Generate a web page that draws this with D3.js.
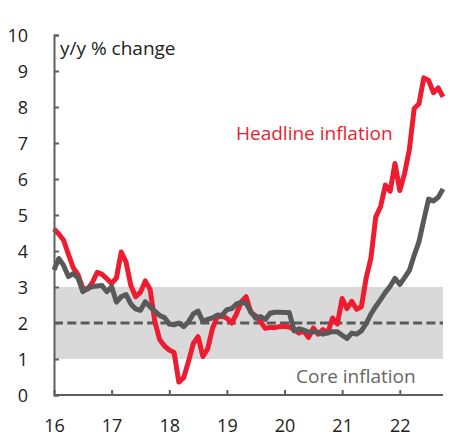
<!DOCTYPE html>
<meta charset="utf-8">
<style>
    body { margin: 0; background: #fff; font-family: "Open Sans", sans-serif; }
    .axis path, .axis line { stroke: #5f5f5f; stroke-width: 2px; }
    .axis text { font-family: "Open Sans", sans-serif; font-size: 18px; fill: #222; }
    .line { fill: none; stroke-width: 5px; stroke-linejoin: round; }
</style>
<svg width="453" height="441"></svg>
<script src="https://cdnjs.cloudflare.com/ajax/libs/d3/7.8.5/d3.min.js"></script>
<script>

    // monthly y/y % change, Jan 2016 .. Oct 2022
    var startYear = 16;
    var headline = [
        4.61, 4.47, 4.30, 3.91, 3.54, 3.34, 2.96, 2.94, 3.13, 3.41, 3.35, 3.23,
        3.10, 3.25, 3.97, 3.69, 3.04, 2.73, 2.85, 3.17, 2.94, 2.04, 1.54, 1.36,
        1.25, 1.18, 0.36, 0.48, 0.93, 1.43, 1.62, 1.07, 1.28, 1.85, 2.17, 2.19,
        2.13, 2.00, 2.25, 2.59, 2.73, 2.29, 2.20, 2.04, 1.85, 1.88, 1.87, 1.90,
        1.90, 1.89, 1.82, 1.72, 1.78, 1.60, 1.86, 1.69, 1.82, 1.72, 2.14, 1.97,
        2.68, 2.40, 2.60, 2.38, 2.45, 3.25, 3.81, 4.95, 5.23, 5.83, 5.66, 6.43,
        5.68, 6.15, 6.82, 7.96, 8.09, 8.81, 8.74, 8.40, 8.53, 8.28
    ];
    var core = [
        3.47, 3.79, 3.60, 3.29, 3.37, 3.25, 2.87, 2.96, 3.01, 3.03, 3.04, 2.87,
        3.01, 2.58, 2.73, 2.79, 2.53, 2.39, 2.35, 2.59, 2.45, 2.33, 2.21, 2.15,
        1.97, 1.95, 2.00, 1.90, 2.03, 2.25, 2.33, 2.04, 2.10, 2.14, 2.22, 2.21,
        2.37, 2.40, 2.53, 2.57, 2.55, 2.31, 2.13, 2.18, 2.10, 2.27, 2.30, 2.30,
        2.29, 2.29, 1.78, 1.84, 1.80, 1.75, 1.76, 1.74, 1.69, 1.73, 1.76, 1.76,
        1.66, 1.57, 1.72, 1.69, 1.78, 1.98, 2.25, 2.46, 2.65, 2.85, 3.02, 3.24,
        3.07, 3.26, 3.46, 3.88, 4.26, 4.86, 5.44, 5.39, 5.49, 5.72
    ];
    var xTicks = [16, 17, 18, 19, 20, 21, 22];
    var yTicks = [0, 1, 2, 3, 4, 5, 6, 7, 8, 9, 10];
    var targetBand = [1, 3];
    var targetMid = 2;

    var svg = d3.select("svg"),
        margin = {top: 35, right: 10, bottom: 46, left: 54},
        width = svg.attr("width") - margin.left - margin.right,
        height = svg.attr("height") - margin.top - margin.bottom,
        g = svg.append("g").attr("transform", "translate(" + margin.left + "," + margin.top + ")");

    var lastT = startYear + (headline.length - 1) / 12;

    var x = d3.scaleLinear().domain([startYear, lastT]).range([0, width]),
        y = d3.scaleLinear().domain([0, 10]).range([height, 0]);

    var line = d3.line()
        .x(function(d, i) { return x(startYear + i / 12); })
        .y(function(d) { return y(d); });

    // target range band
    g.append("rect")
        .attr("x", 0)
        .attr("width", width)
        .attr("y", y(targetBand[1]))
        .attr("height", y(targetBand[0]) - y(targetBand[1]))
        .attr("fill", "#d9d9d9");

    // target midpoint
    g.append("line")
        .attr("x1", 0).attr("x2", width)
        .attr("y1", y(targetMid)).attr("y2", y(targetMid))
        .attr("stroke", "#5a5a5a")
        .attr("stroke-width", 3)
        .attr("stroke-dasharray", "9 4.3");

    g.append("path")
        .datum(headline)
        .attr("class", "line")
        .style("stroke", "#ee1c30")
        .attr("d", line);

    g.append("path")
        .datum(core)
        .attr("class", "line")
        .style("stroke", "#595959")
        .attr("d", line);

    // axes
    g.append("g")
        .attr("class", "axis")
        .call(d3.axisLeft(y).tickValues(yTicks).tickSize(-5).tickSizeOuter(-5).tickPadding(26))
        .selectAll("text").attr("dy", "0.36em");

    var xAxis = g.append("g")
        .attr("class", "axis")
        .attr("transform", "translate(0," + height + ")")
        .call(d3.axisBottom(x).tickValues(xTicks).tickSize(-5).tickSizeOuter(0)
            .tickPadding(24).tickFormat(d3.format("d")));
    xAxis.select(".domain").attr("d", "M0,0H" + width);

    // labels
    g.append("text")
        .attr("x", 6)
        .attr("y", 20)
        .style("font-size", "19px")
        .attr("fill", "#222")
        .text("y/y % change");

    g.append("text")
        .attr("x", 182)
        .attr("y", 105)
        .style("font-size", "19px")
        .attr("fill", "#ee1c30")
        .text("Headline inflation");

    g.append("text")
        .attr("x", 242)
        .attr("y", 348)
        .style("font-size", "19px")
        .attr("fill", "#666")
        .text("Core inflation");

</script>
